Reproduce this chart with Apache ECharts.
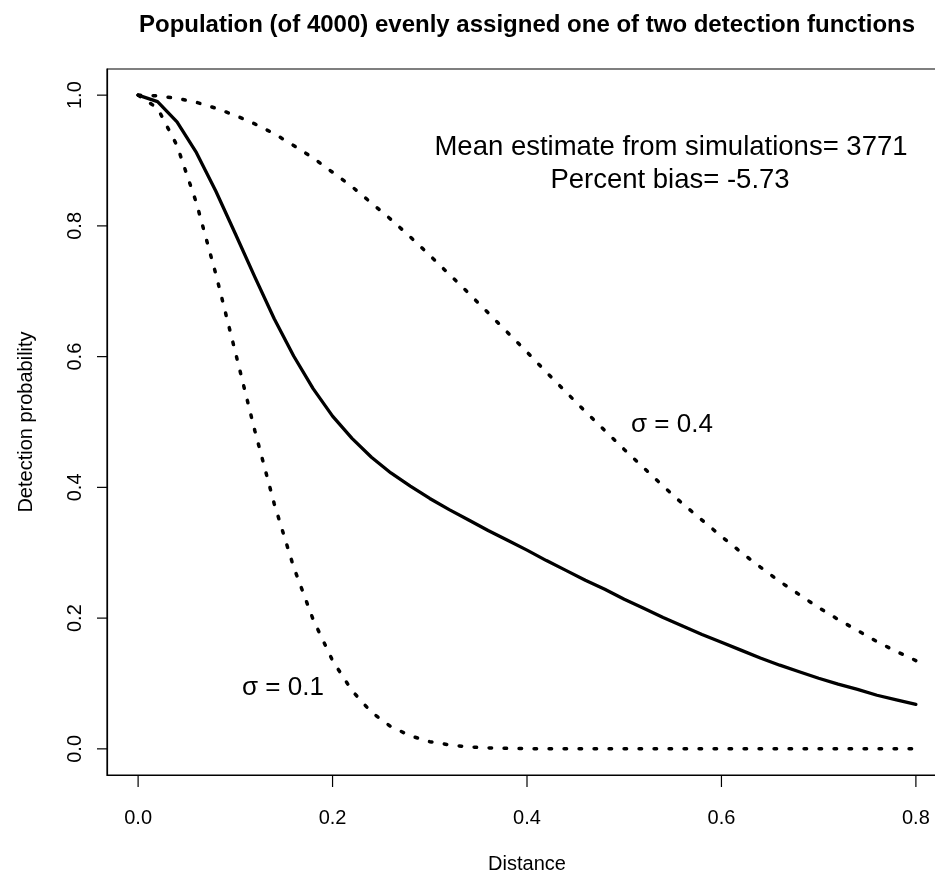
<!DOCTYPE html>
<html>
<head>
<meta charset="utf-8">
<script src="https://cdn.jsdelivr.net/npm/echarts@6/dist/echarts.min.js"></script>
<style>
  html, body { margin: 0; padding: 0; background: #fff; }
  #main { width: 935px; height: 874px; }
</style>
</head>
<body>
<div id="main"></div>
<script>
// distances sampled along the curves
var distance = [0, 0.02, 0.04, 0.06, 0.08, 0.10, 0.12, 0.14, 0.16, 0.18, 0.20,
  0.22, 0.24, 0.26, 0.28, 0.30, 0.32, 0.34, 0.36, 0.38, 0.40,
  0.42, 0.44, 0.46, 0.48, 0.50, 0.52, 0.54, 0.56, 0.58, 0.60,
  0.62, 0.64, 0.66, 0.68, 0.70, 0.72, 0.74, 0.76, 0.78, 0.80];

// sigma = 0.1 detection function (dotted)
var sigma01 = [1, 0.980, 0.923, 0.835, 0.726, 0.607, 0.487, 0.375, 0.278, 0.198, 0.135,
  0.089, 0.056, 0.034, 0.020, 0.011, 0.006, 0.003, 0.0015, 0.0007, 0.0003,
  0, 0, 0, 0, 0, 0, 0, 0, 0, 0,
  0, 0, 0, 0, 0, 0, 0, 0, 0, 0];

// sigma = 0.4 detection function (dotted)
var sigma04 = [1, 0.999, 0.995, 0.989, 0.980, 0.969, 0.956, 0.941, 0.923, 0.904, 0.882,
  0.860, 0.835, 0.810, 0.783, 0.755, 0.726, 0.697, 0.667, 0.637, 0.607,
  0.576, 0.546, 0.516, 0.487, 0.458, 0.430, 0.402, 0.375, 0.350, 0.325,
  0.301, 0.278, 0.256, 0.236, 0.216, 0.198, 0.181, 0.164, 0.149, 0.135];

// pooled population detection (solid)
var pooled = [1, 0.990, 0.959, 0.912, 0.853, 0.788, 0.722, 0.658, 0.601, 0.551, 0.509,
  0.475, 0.446, 0.422, 0.402, 0.383, 0.366, 0.350, 0.334, 0.319, 0.304,
  0.288, 0.273, 0.258, 0.244, 0.229, 0.215, 0.201, 0.188, 0.175, 0.163,
  0.151, 0.139, 0.128, 0.118, 0.108, 0.099, 0.091, 0.082, 0.075, 0.068];

var xTicks = [0, 0.2, 0.4, 0.6, 0.8];
var yTicks = [0, 0.2, 0.4, 0.6, 0.8, 1.0];

var xMin = -0.032, xMax = 0.832;
var yMin = -0.04, yMax = 1.04;

// plot box (its right edge falls outside the picture, as in the original)
var box = { left: 107, top: 69, width: 840, height: 706 };

function pairs(ys) {
  return distance.map(function (d, i) { return [d, ys[i]]; });
}

var font = 'Liberation Sans, Arial, sans-serif';
var dotted = { color: '#000', width: 3.5, type: [2.5, 12.5], cap: 'round' };
var axisPen = { color: '#000', width: 1.2 };

var graphics = [
  { type: 'text', x: 527, y: 25, style: { text: 'Population (of 4000) evenly assigned one of two detection functions',
      font: 'bold 24px ' + font, fill: '#000', align: 'center', verticalAlign: 'middle' } },
  { type: 'text', x: 671, y: 147, style: { text: 'Mean estimate from simulations= 3771',
      font: '27.5px ' + font, fill: '#000', align: 'center', verticalAlign: 'middle' } },
  { type: 'text', x: 670, y: 180, style: { text: 'Percent bias= -5.73',
      font: '27.5px ' + font, fill: '#000', align: 'center', verticalAlign: 'middle' } },
  { type: 'text', x: 283, y: 688, style: { text: 'σ = 0.1',
      font: '26px ' + font, fill: '#000', align: 'center', verticalAlign: 'middle' } },
  { type: 'text', x: 672, y: 425, style: { text: 'σ = 0.4',
      font: '26px ' + font, fill: '#000', align: 'center', verticalAlign: 'middle' } }
];

// outward tick marks on the box edges
var bottom = box.top + box.height;
xTicks.forEach(function (v) {
  var px = box.left + (v - xMin) / (xMax - xMin) * box.width;
  graphics.push({ type: 'line', z: 100, silent: true,
    shape: { x1: px, y1: bottom, x2: px, y2: bottom + 12 },
    style: { stroke: '#000', lineWidth: 1.2 } });
});
yTicks.forEach(function (v) {
  var py = box.top + (yMax - v) / (yMax - yMin) * box.height;
  graphics.push({ type: 'line', z: 100, silent: true,
    shape: { x1: box.left - 10, y1: py, x2: box.left, y2: py },
    style: { stroke: '#000', lineWidth: 1.2 } });
});

var chart = echarts.init(document.getElementById('main'), null, { renderer: 'canvas' });
chart.setOption({
  animation: false,
  backgroundColor: '#fff',
  grid: {
    left: box.left, top: box.top, width: box.width, height: box.height,
    outerBoundsMode: 'none',
    show: true, borderColor: '#000', borderWidth: 1.2
  },
  graphic: graphics,
  xAxis: {
    type: 'value', min: xMin, max: xMax,
    name: 'Distance', nameLocation: 'middle', nameGap: 79,
    nameTextStyle: { fontFamily: font, fontSize: 20, color: '#000' },
    axisLine: { show: true, onZero: false, lineStyle: axisPen },
    axisTick: { show: false },
    axisLabel: { customValues: xTicks, margin: 33, fontFamily: font, fontSize: 20, color: '#000',
      formatter: function (v) { return v.toFixed(1); } },
    splitLine: { show: false }
  },
  yAxis: {
    type: 'value', min: yMin, max: yMax,
    name: 'Detection probability', nameLocation: 'middle', nameRotate: 90, nameGap: 71,
    nameTextStyle: { fontFamily: font, fontSize: 20, color: '#000' },
    axisLine: { show: true, onZero: false, lineStyle: axisPen },
    axisTick: { show: false },
    axisLabel: { customValues: yTicks, rotate: 90, margin: 22, fontFamily: font, fontSize: 20, color: '#000',
      formatter: function (v) { return v.toFixed(1); } },
    splitLine: { show: false }
  },
  series: [
    { name: 'sigma 0.1', type: 'line', data: pairs(sigma01), showSymbol: false, symbol: 'none',
      lineStyle: dotted, z: 3 },
    { name: 'sigma 0.4', type: 'line', data: pairs(sigma04), showSymbol: false, symbol: 'none',
      lineStyle: dotted, z: 3 },
    { name: 'pooled', type: 'line', data: pairs(pooled), showSymbol: false, symbol: 'none',
      lineStyle: { color: '#000', width: 3.3, type: 'solid', cap: 'round', join: 'round' }, z: 4 }
  ]
});
</script>
</body>
</html>
